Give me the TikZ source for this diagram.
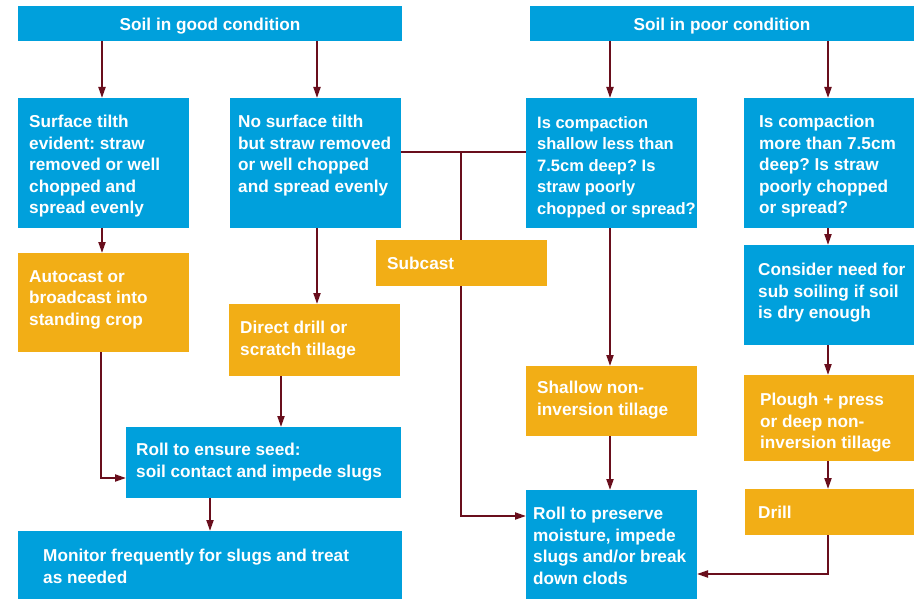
\documentclass[tikz,border=0pt]{standalone}
\usepackage{fontspec}
\setmainfont{Liberation Sans}
\usetikzlibrary{arrows.meta}
\definecolor{cblue}{RGB}{0,160,220}
\definecolor{corange}{RGB}{242,174,22}
\definecolor{carrow}{RGB}{105,14,28}
\frenchspacing
\begin{document}
\begin{tikzpicture}[x=1pt,y=-1pt,
  boxb/.style={rectangle, fill=cblue, draw=none, inner sep=0pt, outer sep=0pt, anchor=north west},
  boxo/.style={rectangle, fill=corange, draw=none, inner sep=0pt, outer sep=0pt, anchor=north west},
  txt/.style={text=white, font=\fontsize{17.2}{21.5}\selectfont\bfseries, align=left, anchor=north west, inner sep=0pt},
  conn/.style={draw=carrow, line width=2pt},
  arr/.style={conn, -{Triangle[length=11pt,width=7pt]}}]
\fill[white] (0,0) rectangle (916,599);
\useasboundingbox (0,0) rectangle (916,599);
% boxes
\node[boxb, minimum width=384pt, minimum height=35pt] (good) at (18,6) {};
\node[boxb, minimum width=384pt, minimum height=35pt] (poor) at (530,6) {};
\node[boxb, minimum width=171pt, minimum height=130pt] (tiltha) at (18,98) {};
\node[boxb, minimum width=171pt, minimum height=130pt] (tilthb) at (230,98) {};
\node[boxb, minimum width=171pt, minimum height=130pt] (compc) at (526,98) {};
\node[boxb, minimum width=170pt, minimum height=130pt] (compd) at (744,98) {};
\node[boxo, minimum width=171pt, minimum height=99pt] (auto) at (18,253) {};
\node[boxo, minimum width=171pt, minimum height=46pt] (sub) at (376,240) {};
\node[boxo, minimum width=171pt, minimum height=72pt] (dd) at (229,304) {};
\node[boxb, minimum width=170pt, minimum height=100pt] (cons) at (744,245) {};
\node[boxo, minimum width=171pt, minimum height=70pt] (shal) at (526,366) {};
\node[boxo, minimum width=170pt, minimum height=86pt] (plough) at (744,375) {};
\node[boxb, minimum width=275pt, minimum height=71pt] (roll1) at (126,427) {};
\node[boxb, minimum width=384pt, minimum height=68pt] (mon) at (18,531) {};
\node[boxb, minimum width=171pt, minimum height=109pt] (roll2) at (526,490) {};
\node[boxo, minimum width=169pt, minimum height=46pt] (drill) at (745,489) {};
% texts
\coordinate (tb) at (0,31);
\node[txt, anchor=base] (goodT) at (good.center |- tb) {Soil in good condition};
\node[txt, anchor=base] (poorT) at (poor.center |- tb) {Soil in poor condition};
\node[txt] (tilthaT) at (29,115) {Surface tilth\\evident: straw\\removed or well\\chopped and\\spread evenly};
\node[txt] (tilthbT) at (238,115) {No surface tilth\\but straw removed\\or well chopped\\and spread evenly};
\node[txt, font=\fontsize{16.5}{21.5}\selectfont\bfseries] (compcT) at (537,116) {Is compaction\\shallow less than\\7.5cm deep? Is\\straw poorly\\chopped or spread?};
\node[txt] (compdT) at (759,115) {Is compaction\\more than 7.5cm\\deep? Is straw\\poorly chopped\\or spread?};
\node[txt] (autoT) at (29,270) {Autocast or\\broadcast into\\standing crop};
\node[txt, anchor=west] (subT) at ([xshift=11pt]sub.west) {Subcast};
\node[txt] (ddT) at (240,321) {Direct drill or\\scratch tillage};
\node[txt] (consT) at (758,263) {Consider need for\\sub soiling if soil\\is dry enough};
\node[txt] (shalT) at (537,381) {Shallow non-\\inversion tillage};
\node[txt] (ploughT) at (760,393) {Plough + press\\or deep non-\\inversion tillage};
\node[txt] (roll1T) at (136,443) {Roll to ensure seed:\\soil contact and impede slugs};
\node[txt] (monT) at (43,549) {Monitor frequently for slugs and treat\\as needed};
\node[txt] (roll2T) at (533,507) {Roll to preserve\\moisture, impede\\slugs and/or break\\down clods};
\node[txt, anchor=west] (drillT) at ([xshift=13pt]drill.west) {Drill};
% guide coordinates
\coordinate (c101) at (101,0);
\coordinate (c102) at (102,0);
\coordinate (c210) at (210,0);
\coordinate (c281) at (281,0);
\coordinate (c317) at (317,0);
\coordinate (c461) at (461,0);
\coordinate (c610) at (610,0);
\coordinate (c828) at (828,0);
\coordinate (r152) at (0,152);
\coordinate (r478) at (0,478);
\coordinate (r516) at (0,516);
\coordinate (r574) at (0,574);
% connectors
\draw[arr] (good.south -| c102) -- (tiltha.north -| c102);
\draw[arr] (good.south -| c317) -- (tilthb.north -| c317);
\draw[arr] (poor.south -| c610) -- (compc.north -| c610);
\draw[arr] (poor.south -| c828) -- (compd.north -| c828);
\draw[arr] (tiltha.south -| c102) -- (auto.north -| c102);
\draw[arr] (tilthb.south -| c317) -- (dd.north -| c317);
\draw[arr] (dd.south -| c281) -- (roll1.north -| c281);
\draw[arr] (auto.south -| c101) |- (roll1.west |- r478);
\draw[arr] (roll1.south -| c210) -- (mon.north -| c210);
\draw[conn] (tilthb.east |- r152) -- (compc.west |- r152);
\draw[conn] (c461 |- r152) -- (sub.north -| c461);
\draw[arr] (sub.south -| c461) |- (roll2.west |- r516);
\draw[arr] (compc.south -| c610) -- (shal.north -| c610);
\draw[arr] (shal.south -| c610) -- (roll2.north -| c610);
\draw[arr] (compd.south -| c828) -- (cons.north -| c828);
\draw[arr] (cons.south -| c828) -- (plough.north -| c828);
\draw[arr] (plough.south -| c828) -- (drill.north -| c828);
\draw[arr] (drill.south -| c828) |- (roll2.east |- r574);
\end{tikzpicture}
\end{document}
